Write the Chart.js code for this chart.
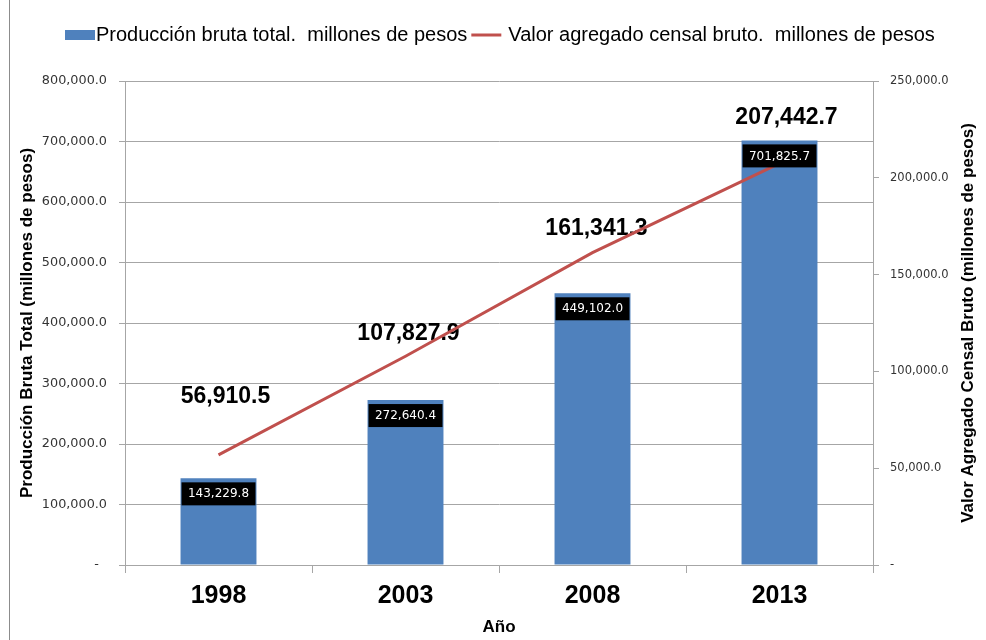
<!DOCTYPE html>
<html>
<head>
<meta charset="utf-8">
<script src="https://cdn.jsdelivr.net/npm/chart.js@4.4.1/dist/chart.umd.min.js"></script>
<style>
  html, body { margin: 0; padding: 0; background: #fff; }
  #wrap { position: relative; width: 986px; height: 640px; }
</style>
</head>
<body>
<div id="wrap"><canvas id="chart" width="986" height="640"></canvas></div>
<script>
(function() {
'use strict';

// data
const years = ['1998', '2003', '2008', '2013'];
const produccionBruta = [143229.8, 272640.4, 449102.0, 701825.7];
const valorAgregado = [56910.5, 107827.9, 161341.3, 207442.7];

const barLabel = 'Producción bruta total.  millones de pesos';
const lineLabel = 'Valor agregado censal bruto.  millones de pesos';
const leftTitle = 'Producción Bruta Total (millones de pesos)';
const rightTitle = 'Valor Agregado Censal Bruto (millones de pesos)';
const xTitle = 'Año';

const BLUE = '#4f81bd';
const RED = '#c0504d';
const GRID = '#a6a6a6';

function fmt(v) {
    return v.toLocaleString('en-US', { minimumFractionDigits: 1, maximumFractionDigits: 1 });
}

// manual nudges for the big line labels (like in the original sheet)
const lineLabelShift = [[7, -58], [3, -23], [4, -24], [7, -46]];

const decoPlugin = {
    id: 'deco',
    beforeDraw(chart) {
        const ctx = chart.ctx;
        ctx.save();
        ctx.fillStyle = '#fff';
        ctx.fillRect(0, 0, chart.width, chart.height);
        // frame line at the left edge
        ctx.strokeStyle = '#8c8c8c';
        ctx.lineWidth = 1;
        ctx.beginPath();
        ctx.moveTo(9.5, 0);
        ctx.lineTo(9.5, chart.height);
        ctx.stroke();
        ctx.restore();
    },
    beforeDatasetsDraw(chart) {
        const ctx = chart.ctx;
        const meta = chart.getDatasetMeta(1);
        ctx.save();
        ctx.font = 'bold 23px "Liberation Sans", Arial, sans-serif';
        ctx.fillStyle = '#000';
        ctx.textAlign = 'center';
        ctx.textBaseline = 'middle';
        meta.data.forEach((pt, i) => {
            const s = lineLabelShift[i];
            ctx.fillText(fmt(valorAgregado[i]), pt.x + s[0], pt.y + s[1]);
        });
        ctx.restore();
    },
    afterDatasetsDraw(chart) {
        const ctx = chart.ctx;
        const meta = chart.getDatasetMeta(0);
        ctx.save();
        ctx.font = '12px "DejaVu Sans", sans-serif';
        ctx.textAlign = 'center';
        ctx.textBaseline = 'middle';
        meta.data.forEach((bar, i) => {
            const w = bar.width - 2;
            const top = bar.y + 4;
            ctx.fillStyle = '#000';
            ctx.fillRect(bar.x - w / 2, top, w, 23);
            ctx.fillStyle = '#fff';
            ctx.fillText(fmt(produccionBruta[i]), bar.x, top + 12);
        });
        ctx.restore();
    },
    afterDraw(chart) {
        const ctx = chart.ctx;
        const area = chart.chartArea;
        ctx.save();
        // legend
        ctx.font = '20px "Liberation Sans", Arial, sans-serif';
        ctx.textBaseline = 'middle';
        ctx.textAlign = 'left';
        ctx.fillStyle = BLUE;
        ctx.fillRect(65, 30, 30, 10);
        ctx.fillStyle = '#000';
        let x = 96;
        ctx.fillText(barLabel, x, 35);
        x += ctx.measureText(barLabel).width + 4;
        ctx.strokeStyle = RED;
        ctx.lineWidth = 3;
        ctx.beginPath();
        ctx.moveTo(x, 35);
        ctx.lineTo(x + 30, 35);
        ctx.stroke();
        ctx.fillText(lineLabel, x + 37, 35);
        // right axis title, reading upwards
        ctx.font = 'bold 17px "Liberation Sans", Arial, sans-serif';
        ctx.textAlign = 'center';
        ctx.translate(968, (area.top + area.bottom) / 2);
        ctx.rotate(-Math.PI / 2);
        ctx.fillText(rightTitle, 0, 0);
        ctx.restore();
    }
};

const ctx = document.getElementById('chart');
new Chart(ctx, {
    type: 'bar',
    data: {
        labels: years,
        datasets: [
            {
                type: 'bar',
                label: barLabel,
                data: produccionBruta,
                backgroundColor: BLUE,
                yAxisID: 'y',
                order: 2,
                categoryPercentage: 1,
                barPercentage: 0.406
            },
            {
                type: 'line',
                label: lineLabel,
                data: valorAgregado,
                borderColor: RED,
                backgroundColor: RED,
                borderWidth: 3,
                pointRadius: 0,
                tension: 0,
                fill: false,
                yAxisID: 'y1',
                order: 1
            }
        ]
    },
    options: {
        responsive: false,
        animation: false,
        devicePixelRatio: 1,
        layout: { padding: { top: 81, left: 0, right: 0, bottom: 0 } },
        plugins: {
            legend: { display: false },
            tooltip: { enabled: false }
        },
        scales: {
            x: {
                grid: {
                    offset: true,
                    drawOnChartArea: false,
                    drawTicks: true,
                    tickLength: 8,
                    color: GRID
                },
                border: { color: GRID },
                ticks: {
                    color: '#000',
                    padding: 8,
                    font: { family: '"Liberation Sans", Arial, sans-serif', size: 25, weight: 'bold' }
                },
                title: {
                    display: true,
                    text: xTitle,
                    color: '#000',
                    padding: { top: 0, bottom: 2 },
                    font: { family: '"Liberation Sans", Arial, sans-serif', size: 17, weight: 'bold' }
                },
                afterFit(scale) { scale.height = 75; }
            },
            y: {
                position: 'left',
                min: 0,
                max: 800000,
                grid: { color: GRID, tickLength: 6 },
                border: { color: GRID },
                ticks: {
                    stepSize: 100000,
                    color: '#333',
                    padding: 12,
                    font: { family: '"DejaVu Sans", sans-serif', size: 12.8 },
                    callback: v => v === 0 ? '-  ' : fmt(v)
                },
                title: {
                    display: true,
                    text: leftTitle,
                    color: '#000',
                    padding: { top: 17, bottom: 0 },
                    font: { family: '"Liberation Sans", Arial, sans-serif', size: 17, weight: 'bold' }
                },
                afterFit(scale) { scale.width = 125; }
            },
            y1: {
                position: 'right',
                min: 0,
                max: 250000,
                grid: { drawOnChartArea: false, color: GRID, tickLength: 6 },
                border: { color: GRID },
                ticks: {
                    stepSize: 50000,
                    color: '#333',
                    padding: 11,
                    font: { family: '"DejaVu Sans", sans-serif', size: 11.5 },
                    callback: v => v === 0 ? '-' : fmt(v)
                },
                afterFit(scale) { scale.width = 113; }
            }
        }
    },
    plugins: [decoPlugin]
});

})();
</script>
</body>
</html>
